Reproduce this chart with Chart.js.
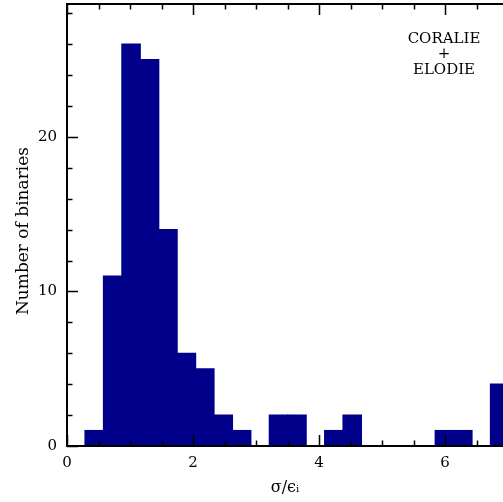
<!DOCTYPE html>
<html>
<head>
<meta charset="utf-8">
<script src="https://cdn.jsdelivr.net/npm/chart.js@4.4.1/dist/chart.umd.min.js"></script>
<style>
    html, body { margin: 0; padding: 0; background: #fff; }
    #wrap { width: 503px; height: 502px; }
</style>
</head>
<body>
<div id="wrap"><canvas id="histChart" width="503" height="502"></canvas></div>
<script>
// histogram bins (sigma / eps_i), bin width ~0.29
const binCenters = [0.432, 0.725, 1.017, 1.310, 1.602, 1.895, 2.187, 2.480, 2.772, 3.065, 3.357, 3.650,
                    3.942, 4.235, 4.527, 4.820, 5.112, 5.405, 5.697, 5.990, 6.282, 6.575, 6.867];
const binCounts = [1, 11, 26, 25, 14, 6, 5, 2, 1, 0, 2, 2, 0, 1, 2, 0, 0, 0, 0, 1, 1, 0, 4];
const xTicks = [0, 2, 4, 6];
const yTicks = [0, 10, 20];
const noteLines = ['CORALIE', '+', 'ELODIE'];
const yTitle = 'Number of binaries';

const FONT = "'DejaVu Serif', 'Liberation Serif', serif";

// frame + inward ticks like the original plot
const frameTicks = {
    id: 'frameTicks',
    afterDatasetsDraw(chart) {
        const { ctx, chartArea: a, scales: { x, y } } = chart;
        ctx.save();
        ctx.strokeStyle = '#000';

        ctx.lineWidth = 1.5;
        ctx.beginPath();
        for (let i = 0; i * 0.5 <= x.max; i++) {
            const px = Math.round(x.getPixelForValue(i * 0.5)) + 0.5;
            const len = i % 4 === 0 ? 11 : 5.5;
            ctx.moveTo(px, a.bottom); ctx.lineTo(px, a.bottom - len);
            ctx.moveTo(px, a.top); ctx.lineTo(px, a.top + len);
        }
        for (let i = 0; i * 2 <= y.max; i++) {
            const py = Math.round(y.getPixelForValue(i * 2)) + 0.5;
            const len = i % 5 === 0 ? 11 : 5.5;
            ctx.moveTo(a.left, py); ctx.lineTo(a.left + len, py);
        }
        ctx.stroke();

        ctx.lineWidth = 2;
        ctx.beginPath();
        ctx.moveTo(a.right, a.top);
        ctx.lineTo(a.left, a.top);
        ctx.lineTo(a.left, a.bottom);
        ctx.lineTo(a.right, a.bottom);
        ctx.stroke();
        ctx.restore();
    },
    afterDraw(chart) {
        const ctx = chart.ctx;
        ctx.save();
        ctx.fillStyle = '#000';
        ctx.font = "15px " + FONT;
        ctx.textAlign = 'center';
        ctx.textBaseline = 'alphabetic';
        noteLines.forEach((t, i) => ctx.fillText(t, 444, 42.5 + i * 15.5));

        // y title, a bit below the axis middle as in the original
        ctx.font = "17px " + FONT;
        ctx.translate(28, 231);
        ctx.rotate(-Math.PI / 2);
        ctx.fillText(yTitle, 0, 0);
        ctx.restore();
    }
};

new Chart(document.getElementById('histChart'), {
    type: 'bar',
    data: {
        datasets: [{
            data: binCenters.map((c, i) => ({ x: c, y: binCounts[i] })),
            backgroundColor: '#00008b',
            borderWidth: 0,
            categoryPercentage: 1,
            barPercentage: 1,
            inflateAmount: 0.6
        }]
    },
    options: {
        responsive: false,
        animation: false,
        layout: { padding: { top: 4, right: 0, left: 0, bottom: 0 } },
        plugins: { legend: { display: false }, tooltip: { enabled: false } },
        scales: {
            x: {
                type: 'linear',
                offset: false,
                min: 0,
                max: 6.92,
                grid: { display: false, drawTicks: false },
                border: { display: false },
                afterBuildTicks: s => { s.ticks = xTicks.map(v => ({ value: v })); },
                afterFit: s => { s.height = 56; s.paddingLeft = 0; s.paddingRight = 0; },
                ticks: { autoSkip: false, maxRotation: 0, padding: 8, color: '#000', font: { family: FONT, size: 15 } },
                title: {
                    display: true,
                    text: 'σ/ϵᵢ',
                    color: '#000',
                    font: { family: FONT, size: 16 },
                    padding: { top: 0, bottom: 5 }
                }
            },
            y: {
                min: 0,
                max: 28.6,
                grid: { display: false, drawTicks: false },
                border: { display: false },
                afterBuildTicks: s => { s.ticks = yTicks.map(v => ({ value: v })); },
                afterFit: s => { s.width = 67; s.paddingTop = 0; s.paddingBottom = 0; },
                ticks: { padding: 10, color: '#000', font: { family: FONT, size: 15 } }
            }
        }
    },
    plugins: [frameTicks]
});
</script>
</body>
</html>
